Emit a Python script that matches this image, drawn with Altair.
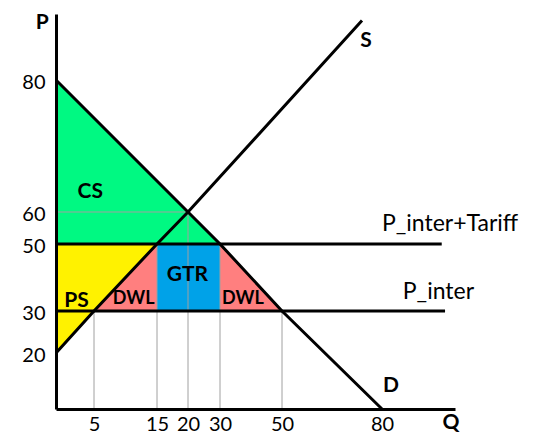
import altair as alt
import pandas as pd

# ---- uneven, hand-drawn axes: value knots and their offsets in the plot area
Q_KNOTS = [0, 5, 15, 20, 30, 50, 80, 102]
Q_RANGE = [0, 38, 101, 132, 164, 226, 326, 399]
P_KNOTS = [0, 20, 30, 50, 60, 80, 90]
P_RANGE = [395, 339, 297, 230, 198, 66, 0]

q_ticks = [5, 15, 20, 30, 50, 80]
p_ticks = [20, 30, 50, 60, 80]

# ---- curves
demand_q = [0, 20, 30, 50, 80]
demand_p = [80, 60, 50, 30, 0]
supply_q = [0, 5, 15, 20, 74]
supply_p = [20, 30, 50, 60, 89]
tariff_q = [0, 98]
tariff_p = [50, 50]
inter_q = [0, 99]
inter_p = [30, 30]

# ---- shaded regions (q, upper p, lower p)
cs_q, cs_top, cs_bot = [0, 20, 30], [80, 60, 50], [50, 50, 50]
ps_q, ps_top, ps_bot = [0, 5, 15], [50, 50, 50], [20, 30, 50]
dwl1_q, dwl1_top, dwl1_bot = [5, 15], [30, 50], [30, 30]
gtr_q, gtr_top, gtr_bot = [15, 30], [50, 50], [30, 30]
dwl2_q, dwl2_top, dwl2_bot = [30, 50], [50, 30], [30, 30]
region_names = ["CS", "PS", "DWL1", "GTR", "DWL2"]
region_colors = ["#00F982", "#FFF200", "#FF7F7F", "#00A2E8", "#FF7F7F"]

# ---- guide lines
grid_q = [5, 15, 20, 30, 50, 0]
grid_q2 = [5, 15, 20, 30, 50, 20]
grid_p = [0, 0, 0, 0, 0, 60]
grid_p2 = [30, 50, 60, 50, 30, 60]

# ---- labels
big_lbl = ["P", "Q", "S", "D", "CS", "PS", "GTR"]
big_q = [-1.8, 100.8, 75.2, 82.7, 4.5, 2.7, 19.9]
big_p = [88.6, -5.0, 85.9, 8.2, 63.0, 33.1, 40.6]
dwl_lbl = ["DWL", "DWL"]
dwl_q = [11.3, 37.4]
dwl_p = [33.6, 33.7]
price_lbl = ["P_inter+Tariff", "P_inter"]
price_q = [100.5, 97.0]
price_p = [56.2, 35.7]

FONT = "Lato"

xscale = alt.Scale(domain=Q_KNOTS, range=Q_RANGE, nice=False, zero=False)
yscale = alt.Scale(domain=P_KNOTS, range=P_RANGE, nice=False, zero=False)
xaxis = alt.Axis(values=q_ticks, title=None, grid=False, ticks=False,
                 domainColor="black", domainWidth=3, labelFont=FONT,
                 labelFontSize=20, labelColor="black", labelPadding=5,
                 labelFlush=False, labelOverlap=False, zindex=1)
yaxis = alt.Axis(values=p_ticks, title=None, grid=False, ticks=False,
                 domainColor="black", domainWidth=3, labelFont=FONT,
                 labelFontSize=20, labelColor="black", labelPadding=11,
                 labelOffset=2, labelFlush=False, labelOverlap=False, zindex=1)


def X(f):
    return alt.X(f, type="quantitative", scale=xscale, axis=xaxis)


def Y(f):
    return alt.Y(f, type="quantitative", scale=yscale, axis=yaxis)


# regions table
rows = []
for name, qs, tops, bots in [("CS", cs_q, cs_top, cs_bot), ("PS", ps_q, ps_top, ps_bot),
                             ("DWL1", dwl1_q, dwl1_top, dwl1_bot), ("GTR", gtr_q, gtr_top, gtr_bot),
                             ("DWL2", dwl2_q, dwl2_top, dwl2_bot)]:
    for q, t, b in zip(qs, tops, bots):
        rows.append({"region": name, "q": q, "top": t, "bot": b})
regions = pd.DataFrame(rows)

crow = []
for name, qs, ps in [("D", demand_q, demand_p), ("S", supply_q, supply_p),
                     ("T", tariff_q, tariff_p), ("I", inter_q, inter_p)]:
    for i, (q, p) in enumerate(zip(qs, ps)):
        crow.append({"curve": name, "q": q, "p": p, "i": i})
curves = pd.DataFrame(crow)

grid = pd.DataFrame({"q": grid_q, "q2": grid_q2, "p": grid_p, "p2": grid_p2})
big = pd.DataFrame({"t": big_lbl, "q": big_q, "p": big_p})
dwl = pd.DataFrame({"t": dwl_lbl, "q": dwl_q, "p": dwl_p})
price = pd.DataFrame({"t": price_lbl, "q": price_q, "p": price_p})

area = alt.Chart(regions).mark_area(opacity=1).encode(
    x=X("q"), y=Y("top"), y2="bot",
    color=alt.Color("region:N", scale=alt.Scale(domain=region_names, range=region_colors), legend=None),
)

rules = alt.Chart(grid).mark_rule(color="#A0A0A0", strokeWidth=1).encode(
    x=X("q"), x2="q2", y=Y("p"), y2="p2"
)

lines = alt.Chart(curves).mark_line(color="black", strokeWidth=3).encode(
    x=X("q"), y=Y("p"), detail="curve:N", order="i:Q"
)

t_big = alt.Chart(big).mark_text(font=FONT, fontSize=21, fontWeight="bold", color="black",
                                 align="center", baseline="middle").encode(
    x=X("q"), y=Y("p"), text="t:N")
t_dwl = alt.Chart(dwl).mark_text(font=FONT, fontSize=18, fontWeight="bold", color="black",
                                 align="center", baseline="middle").encode(
    x=X("q"), y=Y("p"), text="t:N")
t_price = alt.Chart(price).mark_text(font=FONT, fontSize=23, color="black",
                                     align="center", baseline="middle").encode(
    x=X("q"), y=Y("p"), text="t:N")

chart = alt.layer(area, rules, lines, t_big, t_dwl, t_price).properties(
    width=399, height=395,
    autosize=alt.AutoSizeParams(type="none"),
    padding={"left": 48, "top": 6, "right": 66, "bottom": 25},
    background="white",
).configure_view(stroke=None)

chart.save("out.html", embed_options={"renderer": "svg", "actions": False})
